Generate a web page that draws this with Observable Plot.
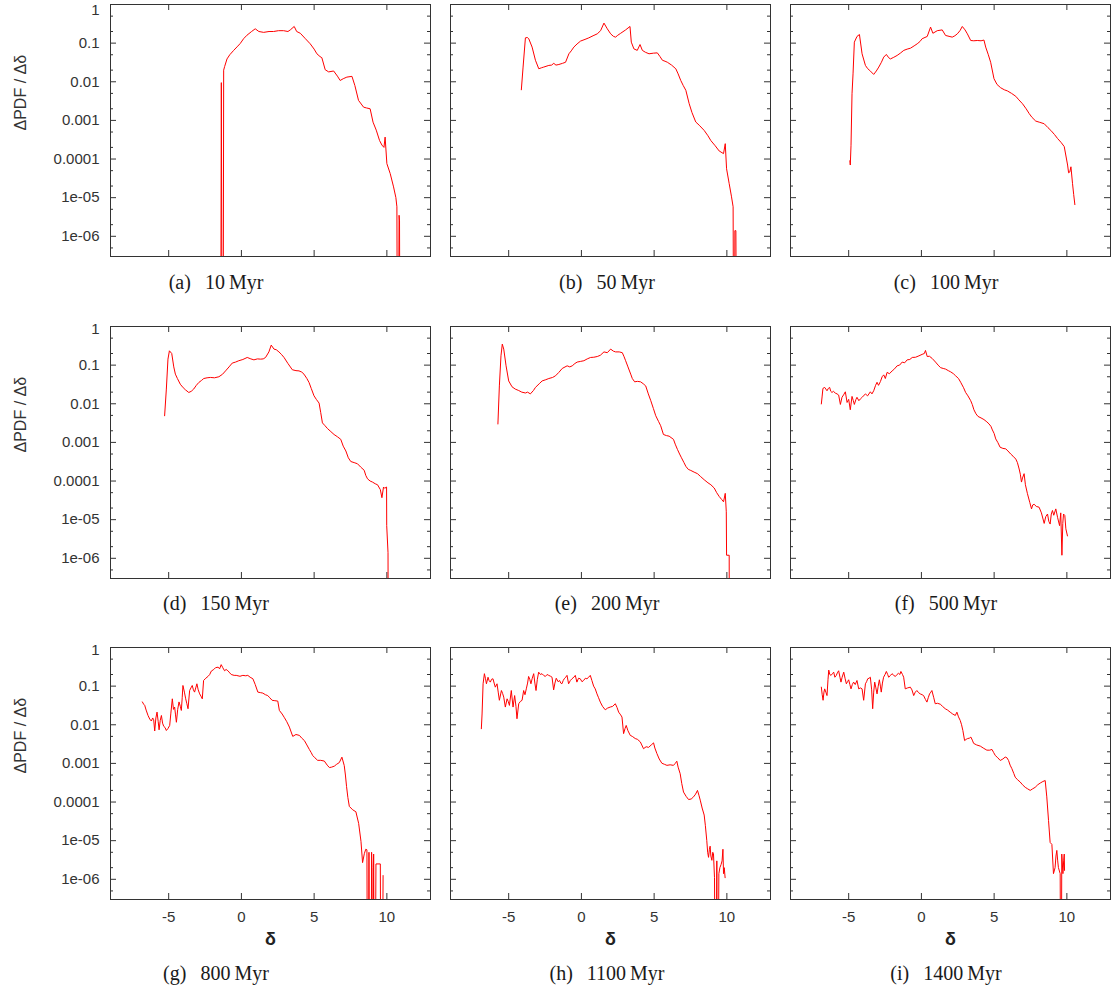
<!DOCTYPE html>
<html><head><meta charset="utf-8">
<script src="https://cdn.jsdelivr.net/npm/d3@7"></script>
<script src="https://cdn.jsdelivr.net/npm/@observablehq/plot@0.6"></script>
<style>
body{margin:0;background:#fff;}
#fig{position:relative;width:1113px;height:989px;overflow:hidden;background:#fff;}
.panel{position:absolute;}
.cap{position:absolute;width:240px;text-align:center;font-family:"Liberation Serif","Times New Roman",serif;font-size:20px;color:#1a1a1a;white-space:nowrap;line-height:24px;}
.cap .g1{margin-left:14px;}
.cap .g2{margin-left:4px;}
</style></head><body><div id="fig"></div>
<script>
// ---- data: [delta, ΔPDF/Δδ] per snapshot ----
const curveA=[[-1.42,1e-9],[-1.38,0.0095],[-1.33,1e-9],[-1.25,1e-9],[-1.22,0.02],[-1.15,0.025],[-0.99,0.039],[-0.8,0.05],[-0.53,0.065],[-0.3,0.08],[-0.08,0.098],[0.15,0.13],[0.38,0.16],[0.7,0.2],[0.95,0.235],[1.2,0.2],[1.53,0.19],[1.9,0.2],[2.21,0.2],[2.55,0.21],[2.9,0.21],[3.2,0.2],[3.36,0.22],[3.63,0.27],[3.8,0.2],[4.05,0.18],[4.4,0.13],[4.73,0.096],[5.0,0.07],[5.19,0.053],[5.4,0.045],[5.53,0.042],[5.76,0.0205],[6.0,0.018],[6.34,0.019],[6.6,0.014],[6.79,0.0108],[7.0,0.012],[7.25,0.0132],[7.6,0.0138],[7.8,0.008],[8.05,0.0033],[8.4,0.0022],[8.6,0.0021],[8.85,0.002],[9.05,0.0009],[9.27,0.00056],[9.5,0.0003],[9.66,0.00023],[9.8,0.0002],[9.88,0.00037],[10.0,7.6e-5],[10.23,4.2e-5],[10.46,1.9e-5],[10.62,1e-5],[10.69,5.8e-6],[10.72,1e-9],[10.8,1e-9],[10.84,3.5e-6],[10.87,2.5e-6],[10.9,1e-9]];
const curveB=[[-4.13,0.0062],[-4.01,0.024],[-3.85,0.137],[-3.72,0.14],[-3.62,0.13],[-3.39,0.079],[-3.16,0.036],[-2.93,0.0217],[-2.75,0.023],[-2.59,0.024],[-2.24,0.0265],[-2.05,0.027],[-1.9,0.03],[-1.75,0.027],[-1.55,0.028],[-1.3,0.03],[-1.09,0.032],[-0.86,0.053],[-0.7,0.063],[-0.52,0.079],[-0.3,0.095],[-0.06,0.113],[0.25,0.125],[0.51,0.137],[0.8,0.155],[1.09,0.174],[1.32,0.21],[1.55,0.33],[1.78,0.235],[2.01,0.174],[2.2,0.15],[2.35,0.143],[2.5,0.16],[2.7,0.18],[3.04,0.22],[3.34,0.27],[3.43,0.106],[3.61,0.071],[3.84,0.065],[4.03,0.092],[4.19,0.065],[4.4,0.058],[4.65,0.053],[4.95,0.055],[5.22,0.056],[5.4,0.045],[5.57,0.036],[5.75,0.034],[5.91,0.032],[6.2,0.027],[6.49,0.0217],[6.65,0.016],[6.83,0.0108],[7.0,0.008],[7.18,0.006],[7.41,0.0027],[7.6,0.0016],[7.86,0.00091],[8.1,0.00075],[8.44,0.00055],[8.7,0.0004],[8.9,0.0003],[9.2,0.00022],[9.47,0.000162],[9.77,0.000138],[9.89,0.00025],[9.98,5.6e-5],[10.16,2.3e-5],[10.32,1.05e-5],[10.43,5.8e-6],[10.46,1e-9],[10.53,1e-9],[10.55,1.4e-6],[10.62,1.4e-6],[10.66,1e-9]];
const curveC=[[-4.92,9e-5],[-4.89,7e-5],[-4.84,2.2e-4],[-4.77,0.0049],[-4.7,0.016],[-4.61,0.106],[-4.43,0.149],[-4.26,0.167],[-4.08,0.053],[-3.85,0.0265],[-3.7,0.022],[-3.55,0.0196],[-3.28,0.0155],[-3.1,0.019],[-2.93,0.024],[-2.75,0.032],[-2.59,0.0435],[-2.41,0.051],[-2.25,0.042],[-2.13,0.039],[-1.9,0.043],[-1.67,0.048],[-1.45,0.055],[-1.21,0.065],[-0.98,0.07],[-0.75,0.074],[-0.5,0.085],[-0.29,0.096],[-0.1,0.11],[0.05,0.13],[0.4,0.149],[0.63,0.26],[0.79,0.18],[1.09,0.21],[1.43,0.22],[1.66,0.158],[1.9,0.15],[2.12,0.143],[2.3,0.155],[2.47,0.174],[2.65,0.21],[2.81,0.27],[3.0,0.22],[3.16,0.174],[3.39,0.117],[3.6,0.115],[3.84,0.117],[4.1,0.115],[4.3,0.12],[4.42,0.079],[4.6,0.05],[4.76,0.032],[4.99,0.012],[5.2,0.0085],[5.45,0.007],[5.7,0.0062],[5.91,0.0058],[6.2,0.005],[6.49,0.0042],[6.7,0.0034],[6.95,0.0027],[7.2,0.002],[7.41,0.0015],[7.6,0.0012],[7.86,0.00096],[8.1,0.0009],[8.44,0.00082],[8.7,0.00065],[8.9,0.00055],[9.15,0.00043],[9.36,0.00034],[9.6,0.00027],[9.82,0.00021],[10.05,7e-5],[10.12,4.4e-5],[10.2,4.6e-5],[10.28,6.3e-5],[10.39,2.3e-5],[10.47,1.2e-5],[10.55,6.6e-6]];
const curveD=[[-5.28,0.0049],[-5.16,0.024],[-5.05,0.143],[-4.95,0.235],[-4.79,0.2],[-4.65,0.09],[-4.54,0.0585],[-4.4,0.045],[-4.2,0.032],[-4.0,0.026],[-3.85,0.023],[-3.62,0.0196],[-3.45,0.021],[-3.28,0.024],[-3.1,0.03],[-2.93,0.0355],[-2.75,0.04],[-2.59,0.045],[-2.36,0.047],[-2.13,0.048],[-1.85,0.047],[-1.55,0.05],[-1.3,0.058],[-1.09,0.071],[-0.85,0.09],[-0.63,0.113],[-0.4,0.12],[-0.18,0.13],[0.1,0.14],[0.4,0.158],[0.65,0.145],[0.86,0.137],[1.1,0.145],[1.32,0.143],[1.5,0.145],[1.66,0.158],[1.89,0.22],[2.05,0.33],[2.24,0.26],[2.4,0.25],[2.58,0.22],[2.75,0.19],[2.93,0.158],[3.2,0.11],[3.5,0.076],[3.75,0.072],[3.96,0.071],[4.15,0.066],[4.3,0.0585],[4.5,0.045],[4.65,0.0355],[4.8,0.025],[4.99,0.0161],[5.15,0.013],[5.34,0.0104],[5.45,0.006],[5.57,0.0032],[5.75,0.0027],[5.91,0.0023],[6.15,0.0019],[6.37,0.0016],[6.6,0.0014],[6.83,0.0012],[7.0,0.0008],[7.18,0.0006],[7.35,0.0004],[7.52,0.00032],[7.75,0.0003],[7.98,0.00028],[8.2,0.00023],[8.44,0.00019],[8.55,0.00014],[8.67,0.000114],[8.85,0.0001],[9.01,9.4e-5],[9.2,8.5e-5],[9.36,8e-5],[9.55,6e-5],[9.66,3.7e-5],[9.77,7e-5],[9.85,6.5e-5],[9.98,7e-5],[9.99,7e-6],[10.08,1.4e-6],[10.1,1e-9]];
const curveE=[[-5.74,0.003],[-5.64,0.029],[-5.53,0.174],[-5.44,0.35],[-5.34,0.26],[-5.18,0.096],[-5.0,0.039],[-4.77,0.0275],[-4.55,0.024],[-4.31,0.022],[-4.1,0.02],[-3.85,0.019],[-3.7,0.02],[-3.51,0.018],[-3.3,0.022],[-3.16,0.0265],[-2.9,0.033],[-2.7,0.039],[-2.45,0.042],[-2.24,0.045],[-1.98,0.048],[-1.78,0.053],[-1.55,0.065],[-1.32,0.082],[-0.98,0.096],[-0.8,0.09],[-0.63,0.096],[-0.45,0.11],[-0.29,0.12],[-0.05,0.125],[0.17,0.13],[0.4,0.145],[0.63,0.158],[0.85,0.16],[1.09,0.167],[1.3,0.18],[1.55,0.22],[1.78,0.21],[2.01,0.26],[2.2,0.23],[2.35,0.22],[2.6,0.22],[2.81,0.21],[2.92,0.17],[3.04,0.13],[3.2,0.09],[3.39,0.0585],[3.5,0.045],[3.66,0.037],[3.85,0.038],[4.07,0.037],[4.25,0.033],[4.42,0.029],[4.6,0.018],[4.76,0.0123],[4.95,0.0075],[5.11,0.0049],[5.3,0.0035],[5.45,0.0027],[5.64,0.0016],[5.85,0.0015],[6.03,0.00145],[6.33,0.0012],[6.45,0.0009],[6.6,0.00066],[6.75,0.0005],[6.88,0.0004],[7.05,0.0003],[7.18,0.00024],[7.35,0.0002],[7.52,0.000188],[7.75,0.00017],[7.98,0.000155],[8.2,0.00013],[8.44,0.000108],[8.7,9e-5],[8.9,8e-5],[9.13,6.6e-5],[9.3,5e-5],[9.47,4e-5],[9.65,3.3e-5],[9.77,2.9e-5],[9.89,4.8e-5],[9.96,1.6e-5],[9.98,1.2e-6],[10.16,1.2e-6],[10.17,1e-9]];
const curveF=[[-6.88,0.0099],[-6.83,0.015],[-6.77,0.025],[-6.65,0.0265],[-6.57,0.024],[-6.49,0.0217],[-6.4,0.025],[-6.31,0.0265],[-6.23,0.021],[-6.15,0.0196],[-6.05,0.021],[-5.92,0.0189],[-5.8,0.018],[-5.69,0.0168],[-5.57,0.0096],[-5.46,0.0147],[-5.35,0.017],[-5.23,0.0204],[-5.11,0.0108],[-5.0,0.013],[-4.89,0.007],[-4.77,0.0155],[-4.68,0.012],[-4.61,0.0096],[-4.5,0.013],[-4.43,0.0147],[-4.3,0.012],[-4.2,0.0133],[-4.05,0.015],[-3.85,0.018],[-3.7,0.016],[-3.51,0.0204],[-3.4,0.018],[-3.28,0.0217],[-3.15,0.03],[-3.05,0.036],[-2.95,0.03],[-2.82,0.0375],[-2.7,0.05],[-2.59,0.056],[-2.48,0.045],[-2.36,0.065],[-2.2,0.06],[-2.01,0.071],[-1.85,0.08],[-1.67,0.096],[-1.5,0.1],[-1.32,0.12],[-1.15,0.115],[-0.98,0.137],[-0.8,0.14],[-0.63,0.158],[-0.4,0.16],[-0.17,0.174],[0.05,0.19],[0.2,0.2],[0.28,0.24],[0.4,0.167],[0.55,0.17],[0.74,0.149],[0.97,0.12],[1.15,0.1],[1.32,0.086],[1.5,0.082],[1.66,0.079],[1.85,0.072],[2.01,0.067],[2.2,0.06],[2.35,0.053],[2.55,0.045],[2.7,0.036],[2.9,0.026],[3.04,0.0196],[3.2,0.016],[3.39,0.012],[3.5,0.0095],[3.61,0.007],[3.75,0.0055],[3.89,0.0047],[4.1,0.0043],[4.3,0.0039],[4.5,0.0034],[4.65,0.003],[4.78,0.0026],[4.88,0.0021],[5.0,0.0017],[5.11,0.00123],[5.25,0.001],[5.41,0.00075],[5.6,0.0007],[5.8,0.00068],[5.95,0.0006],[6.14,0.0005],[6.3,0.00044],[6.49,0.00037],[6.6,0.0003],[6.72,0.000205],[6.8,0.00015],[6.88,9.4e-5],[6.95,0.00012],[7.06,0.000155],[7.15,8e-5],[7.29,4.7e-5],[7.45,2.8e-5],[7.57,1.9e-5],[7.65,2.4e-5],[7.75,2.5e-5],[7.9,2.2e-5],[8.09,2.1e-5],[8.25,1.5e-5],[8.44,8e-6],[8.55,1.2e-5],[8.67,1.4e-5],[8.76,9e-6],[8.85,7.7e-6],[8.93,1.4e-5],[9.01,1.73e-5],[9.1,1.3e-5],[9.24,1.9e-5],[9.36,1.15e-5],[9.5,7e-6],[9.58,1.5e-5],[9.66,1.2e-6],[9.72,8e-6],[9.77,1.4e-5],[9.86,1.28e-5],[9.93,5.8e-6],[10.04,3.8e-6]];
const curveG=[[-6.81,0.039],[-6.72,0.034],[-6.65,0.032],[-6.55,0.024],[-6.42,0.0174],[-6.3,0.014],[-6.19,0.0125],[-6.1,0.015],[-6.03,0.0135],[-5.96,0.0069],[-5.88,0.015],[-5.8,0.0213],[-5.72,0.012],[-5.66,0.0074],[-5.58,0.013],[-5.5,0.0174],[-5.42,0.011],[-5.34,0.0091],[-5.25,0.0085],[-5.16,0.0071],[-5.05,0.008],[-4.93,0.0096],[-4.85,0.02],[-4.75,0.047],[-4.67,0.025],[-4.59,0.0287],[-4.53,0.018],[-4.47,0.0116],[-4.38,0.025],[-4.29,0.039],[-4.2,0.03],[-4.13,0.0235],[-4.07,0.05],[-4.02,0.104],[-3.92,0.07],[-3.83,0.047],[-3.75,0.035],[-3.67,0.026],[-3.56,0.077],[-3.47,0.09],[-3.38,0.104],[-3.3,0.08],[-3.22,0.07],[-3.14,0.09],[-3.06,0.115],[-2.97,0.08],[-2.87,0.063],[-2.78,0.055],[-2.69,0.047],[-2.6,0.14],[-2.45,0.16],[-2.3,0.178],[-2.18,0.2],[-2.07,0.245],[-1.9,0.27],[-1.78,0.3],[-1.6,0.31],[-1.5,0.28],[-1.39,0.36],[-1.28,0.3],[-1.16,0.25],[-1.05,0.27],[-0.93,0.25],[-0.8,0.22],[-0.7,0.2],[-0.5,0.19],[-0.36,0.19],[-0.1,0.18],[0.1,0.19],[0.3,0.185],[0.44,0.19],[0.6,0.17],[0.79,0.155],[0.95,0.11],[1.13,0.07],[1.3,0.068],[1.47,0.066],[1.65,0.06],[1.81,0.057],[1.95,0.05],[2.11,0.043],[2.3,0.042],[2.5,0.041],[2.61,0.0235],[2.8,0.019],[2.96,0.0152],[3.12,0.012],[3.3,0.0087],[3.42,0.0065],[3.53,0.005],[3.75,0.0056],[3.99,0.0053],[4.15,0.0045],[4.33,0.0039],[4.5,0.003],[4.67,0.0023],[4.8,0.0019],[4.9,0.0016],[5.05,0.0014],[5.24,0.0012],[5.45,0.0012],[5.7,0.00115],[5.9,0.0009],[6.05,0.00078],[6.2,0.0008],[6.39,0.00085],[6.55,0.00095],[6.73,0.00105],[6.91,0.00145],[7.07,0.00088],[7.15,0.0005],[7.23,0.00025],[7.32,0.00013],[7.42,7.7e-5],[7.65,6.3e-5],[7.87,5.6e-5],[8.06,2.8e-5],[8.22,9.6e-6],[8.33,2.7e-6],[8.45,4.6e-6],[8.55,6e-6],[8.63,5.8e-6],[8.66,1e-9],[8.74,1e-9],[8.77,5e-6],[8.8,1e-9],[8.92,1e-9],[8.95,5e-6],[8.98,2e-6],[9.02,1e-9],[9.06,1e-9],[9.09,4.5e-6],[9.13,1e-9],[9.2,1e-9],[9.25,2.5e-6],[9.55,2.5e-6],[9.58,1e-9],[9.7,1e-9],[9.74,1.25e-6]];
const curveH=[[-6.88,0.0079],[-6.83,0.019],[-6.76,0.115],[-6.67,0.21],[-6.6,0.16],[-6.53,0.115],[-6.42,0.17],[-6.35,0.14],[-6.26,0.127],[-6.18,0.15],[-6.08,0.155],[-6.0,0.12],[-5.92,0.094],[-5.8,0.115],[-5.72,0.07],[-5.64,0.043],[-5.5,0.077],[-5.42,0.065],[-5.34,0.052],[-5.23,0.0287],[-5.11,0.047],[-5.03,0.04],[-4.95,0.0317],[-4.82,0.077],[-4.7,0.0287],[-4.59,0.057],[-4.5,0.03],[-4.43,0.0143],[-4.31,0.035],[-4.2,0.04],[-4.08,0.043],[-3.97,0.077],[-3.88,0.06],[-3.79,0.085],[-3.7,0.12],[-3.63,0.178],[-3.55,0.15],[-3.47,0.115],[-3.38,0.16],[-3.28,0.21],[-3.2,0.12],[-3.12,0.077],[-3.03,0.15],[-2.94,0.23],[-2.82,0.2],[-2.71,0.21],[-2.6,0.19],[-2.48,0.178],[-2.36,0.2],[-2.25,0.19],[-2.12,0.18],[-2.02,0.17],[-1.91,0.08],[-1.82,0.12],[-1.73,0.16],[-1.6,0.13],[-1.5,0.14],[-1.42,0.12],[-1.34,0.115],[-1.25,0.14],[-1.18,0.155],[-1.08,0.17],[-0.99,0.19],[-0.88,0.115],[-0.76,0.14],[-0.65,0.155],[-0.52,0.17],[-0.42,0.19],[-0.31,0.127],[-0.2,0.16],[-0.08,0.155],[0.04,0.13],[0.15,0.14],[0.27,0.16],[0.38,0.155],[0.5,0.17],[0.61,0.19],[0.72,0.14],[0.84,0.1],[0.95,0.085],[1.07,0.063],[1.18,0.05],[1.3,0.0386],[1.45,0.03],[1.64,0.0244],[1.8,0.027],[1.98,0.0287],[2.15,0.03],[2.33,0.035],[2.45,0.028],[2.56,0.0212],[2.7,0.018],[2.79,0.0158],[2.9,0.0059],[3.0,0.008],[3.08,0.0096],[3.2,0.007],[3.36,0.0053],[3.5,0.005],[3.7,0.0044],[3.85,0.0042],[4.05,0.0036],[4.15,0.003],[4.27,0.0024],[4.45,0.0027],[4.62,0.0026],[4.8,0.003],[4.96,0.0034],[5.05,0.0025],[5.19,0.0018],[5.35,0.0013],[5.53,0.00101],[5.7,0.00095],[5.88,0.00089],[6.1,0.00092],[6.33,0.00089],[6.45,0.001],[6.56,0.00114],[6.65,0.0008],[6.79,0.00054],[6.9,0.0003],[7.02,0.000181],[7.2,0.00014],[7.37,0.000116],[7.55,0.00012],[7.71,0.000136],[7.85,0.00016],[7.98,0.0002],[8.08,0.00015],[8.17,0.000112],[8.3,7e-5],[8.44,4.6e-5],[8.52,2.5e-5],[8.62,1.0e-5],[8.68,5e-6],[8.74,3.7e-6],[8.8,6e-6],[8.85,7.2e-6],[8.9,4e-6],[8.97,3.1e-6],[9.03,5e-6],[9.08,4.6e-6],[9.15,1.1e-6],[9.2,1e-9],[9.26,1e-9],[9.31,3e-6],[9.34,1e-9],[9.4,1e-9],[9.45,1.4e-6],[9.52,2e-6],[9.6,2.4e-6],[9.67,3e-6],[9.73,6e-6],[9.77,1.4e-6],[9.82,2e-6],[9.88,1.1e-6]];
const curveI=[[-6.88,0.094],[-6.82,0.06],[-6.76,0.043],[-6.7,0.07],[-6.65,0.085],[-6.57,0.07],[-6.49,0.057],[-6.42,0.15],[-6.37,0.26],[-6.3,0.2],[-6.21,0.19],[-6.12,0.21],[-6.03,0.23],[-5.95,0.17],[-5.85,0.19],[-5.78,0.22],[-5.69,0.25],[-5.6,0.17],[-5.53,0.127],[-5.45,0.17],[-5.34,0.23],[-5.25,0.16],[-5.16,0.115],[-5.08,0.13],[-5.0,0.146],[-4.92,0.11],[-4.84,0.085],[-4.75,0.11],[-4.66,0.127],[-4.55,0.11],[-4.43,0.14],[-4.31,0.085],[-4.2,0.09],[-4.08,0.085],[-3.97,0.043],[-3.85,0.115],[-3.77,0.13],[-3.69,0.155],[-3.6,0.16],[-3.51,0.17],[-3.42,0.08],[-3.35,0.026],[-3.28,0.07],[-3.21,0.127],[-3.13,0.09],[-3.05,0.063],[-2.97,0.1],[-2.89,0.146],[-2.82,0.1],[-2.76,0.07],[-2.68,0.12],[-2.6,0.17],[-2.5,0.2],[-2.41,0.24],[-2.32,0.2],[-2.25,0.17],[-2.12,0.19],[-2.02,0.21],[-1.9,0.19],[-1.79,0.178],[-1.68,0.2],[-1.57,0.215],[-1.48,0.2],[-1.41,0.24],[-1.3,0.2],[-1.22,0.17],[-1.11,0.085],[-0.95,0.09],[-0.76,0.094],[-0.65,0.08],[-0.53,0.057],[-0.42,0.07],[-0.31,0.077],[-0.2,0.068],[-0.08,0.063],[0.05,0.06],[0.15,0.057],[0.28,0.045],[0.38,0.0386],[0.47,0.05],[0.56,0.063],[0.65,0.07],[0.72,0.077],[0.85,0.05],[0.95,0.035],[1.1,0.036],[1.3,0.034],[1.45,0.03],[1.64,0.026],[1.8,0.024],[1.98,0.0212],[2.15,0.019],[2.33,0.0174],[2.44,0.0212],[2.55,0.016],[2.67,0.0129],[2.76,0.01],[2.85,0.0071],[2.97,0.0039],[3.08,0.0042],[3.18,0.0044],[3.3,0.0045],[3.4,0.0048],[3.5,0.004],[3.59,0.0033],[3.8,0.003],[4.05,0.0028],[4.25,0.0025],[4.5,0.0022],[4.7,0.0022],[4.85,0.0023],[4.97,0.0019],[5.08,0.0016],[5.25,0.0014],[5.42,0.00119],[5.6,0.0013],[5.76,0.00146],[5.88,0.0014],[5.99,0.00119],[6.1,0.0009],[6.22,0.00073],[6.35,0.00055],[6.45,0.00044],[6.6,0.00038],[6.79,0.00033],[6.95,0.00028],[7.14,0.00024],[7.3,0.00022],[7.48,0.0002],[7.65,0.00022],[7.82,0.00024],[8.0,0.00028],[8.17,0.00031],[8.35,0.00034],[8.51,0.00036],[8.62,0.000136],[8.74,3.3e-5],[8.85,9e-6],[8.97,8e-6],[9.08,1.4e-6],[9.19,2e-6],[9.25,4e-6],[9.31,5.6e-6],[9.37,3e-6],[9.42,2e-6],[9.54,1.4e-6],[9.57,1e-9],[9.62,1e-9],[9.65,4.5e-6],[9.73,1.4e-6],[9.78,3e-6],[9.82,4.5e-6],[9.84,1.7e-6]];

const panelLetters=["a","b","c","d","e","f","g","h","i"];
const agesMyr=[10,50,100,150,200,500,800,1100,1400];
const xTicks=[-5,0,5,10];
const xTickLabels=["-5","0","5","10"];
const yTicks=[1e-6,1e-5,1e-4,1e-3,1e-2,1e-1,1];
const yTickLabels=["1e-06","1e-05","0.0001","0.001","0.01","0.1","1"];
const yMinorTicks=[5e-7,2e-6,5e-6,2e-5,5e-5,2e-4,5e-4,2e-3,5e-3,0.02,0.05,0.2,0.5];
const yLabel="ΔPDF / Δδ";
const xLabel="δ";
const curves=[curveA,curveB,curveC,curveD,curveE,curveF,curveG,curveH,curveI];

// ---- layout ----
const W=320,H=252;
const frameLefts=[110,450,790];
const frameTops=[4,326,647];
const capCX=[216,607,946];
const capCY=[283,604,974];
const fig=document.getElementById("fig");
const axisColor="#333";
const yFmt=d=>yTickLabels[yTicks.indexOf(d)];
const yTicksInner=yTicks.filter(d=>d<1);
const yTicksTop=yTicks.filter(d=>d>=1);

curves.forEach((data,i)=>{
  const col=i%3,row=Math.floor(i/3);
  const ml=col===0?110:8, mr=3, mt=4, mb=row===2?56:6;
  const marks=[
    Plot.tickY(yTicks,{y:d=>d,insetRight:W-6,stroke:axisColor}),
    Plot.tickY(yTicks,{y:d=>d,insetLeft:W-6,stroke:axisColor}),
    Plot.tickY(yMinorTicks,{y:d=>d,insetRight:W-3,stroke:axisColor}),
    Plot.tickY(yMinorTicks,{y:d=>d,insetLeft:W-3,stroke:axisColor}),
    Plot.tickX(xTicks,{x:d=>d,insetTop:H-6,stroke:axisColor}),
    Plot.tickX(xTicks,{x:d=>d,insetBottom:H-6,stroke:axisColor}),
    Plot.line(data,{x:d=>d[0],y:d=>d[1],stroke:"#ff0000",strokeWidth:1,clip:true}),
    Plot.frame({stroke:axisColor,strokeWidth:1})
  ];
  if(col===0){
    marks.push(Plot.axisY(yTicksInner,{tickSize:0,tickPadding:11,tickFormat:yFmt,label:null,fill:axisColor}));
    marks.push(Plot.axisY(yTicksTop,{tickSize:0,tickPadding:11,tickFormat:yFmt,label:null,fill:axisColor,dy:row===0?6:3}));
    marks.push(Plot.text([yLabel],{frameAnchor:"left",dx:-90,rotate:-90,fontSize:16,fill:axisColor}));
  }
  if(row===2){
    marks.push(Plot.axisX(xTicks,{tickSize:0,tickPadding:12,tickFormat:d=>xTickLabels[xTicks.indexOf(d)],label:null,fill:axisColor}));
    marks.push(Plot.text([xLabel],{frameAnchor:"bottom",dy:45,fontSize:18,fontWeight:"bold",fill:"#222"}));
  }
  const svg=Plot.plot({
    width:ml+W+mr, height:mt+H+mb,
    marginLeft:ml, marginRight:mr, marginTop:mt, marginBottom:mb,
    x:{domain:[-9,13], ...(row===2?{}:{axis:null})},
    y:{type:"log", domain:[3e-7,1], ...(col===0?{}:{axis:null})},
    style:{fontFamily:"'Liberation Sans', Arial, sans-serif",fontSize:"15px",color:axisColor,background:"transparent",overflow:"visible"},
    marks
  });
  const wrap=document.createElement("div");
  wrap.className="panel";
  wrap.style.left=(frameLefts[col]-ml)+"px";
  wrap.style.top=(frameTops[row]-mt)+"px";
  wrap.appendChild(svg);
  fig.appendChild(wrap);

  const cap=document.createElement("div");
  cap.className="cap";
  cap.style.left=(capCX[col]-120)+"px";
  cap.style.top=(capCY[row]-13)+"px";
  cap.innerHTML=`(${panelLetters[i]})<span class="g1">${agesMyr[i]}</span><span class="g2">Myr</span>`;
  fig.appendChild(cap);
});
</script>
</body></html>
